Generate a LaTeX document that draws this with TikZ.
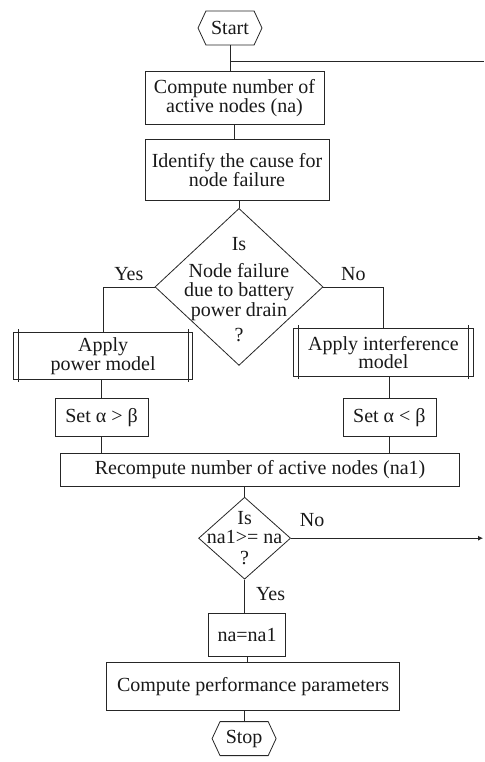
\documentclass[tikz,border=0pt]{standalone}
\usepackage{fontspec}
\setmainfont{Liberation Serif}
\usepackage{tikz}
\usetikzlibrary{positioning, arrows.meta, shapes.geometric, shapes.symbols}

\begin{document}
\begin{tikzpicture}[
    % gaya umum teks
    every node/.style={font=\fontsize{20}{18.5}\selectfont, text=black!90},
    % kotak proses
    process/.style={
        draw=black!85,
        rectangle,
        align=center,
        inner sep=2pt,
        line width=0.8pt
    },
    % terminal start/stop
    terminal/.style={
        draw=black!85,
        signal,
        signal to=east and west,
        signal pointer angle=130,
        minimum width=64pt,
        minimum height=34pt,
        inner sep=1pt,
        line width=0.8pt
    },
    % belah ketupat keputusan
    decision/.style={
        draw=black!85,
        diamond,
        inner sep=0pt,
        line width=0.8pt
    },
    % label ya/tidak
    lbl/.style={inner sep=1pt, align=center},
    % garis penghubung
    link/.style={
        draw=black!85,
        line width=0.8pt
    }
]
\useasboundingbox (0,0) rectangle (484pt,-762pt);

% =====================================================================
% NODE / BLOK
% =====================================================================
\node (start) [terminal] at (230pt,-28pt) {Start};
\node (na) [process, minimum width=179pt, minimum height=53pt, below=26pt of start, xshift=4.5pt] {Compute number of\\active nodes (na)};
\node (cause) [process, minimum width=184pt, minimum height=61pt, below=14pt of na, xshift=2.5pt] {Identify the cause for\\node failure};
\node (dec1) [decision, minimum width=168pt, minimum height=157pt, below=7pt of cause, xshift=2pt] {};
\node (dec1txt) [lbl, font=\fontsize{20}{19.5}\selectfont, yshift=-3pt] at (dec1.center) {Is\\[7pt]Node failure\\due to battery\\power drain\\[6pt]?};

\node (power) [process, minimum width=179pt, minimum height=47pt, below=45.5pt of dec1.west, xshift=-51.5pt] {Apply\\power model};
\node (interf) [process, minimum width=180pt, minimum height=48pt, below=41.5pt of dec1.east, xshift=60pt] {Apply interference\\model};
\node (seta) [process, minimum width=93pt, minimum height=38pt, below=18pt of power, xshift=-1.5pt] {Set α > β};
\node (setb) [process, minimum width=93pt, minimum height=38pt, below=21pt of interf, xshift=6pt] {Set α < β};

\node (recomp) [process, minimum width=399pt, minimum height=33pt, below=16pt of seta, xshift=158.5pt] {Recompute number of active nodes (na1)};
\node (dec2) [decision, minimum width=92pt, minimum height=82pt, below=10pt of recomp, xshift=-15.5pt] {};
\node (dec2txt) [lbl] at (dec2.center) {Is\\na1>= na\\[3pt]?};

\node (nana) [process, minimum width=77pt, minimum height=43pt, below=33pt of dec2, xshift=2.5pt] {na=na1};
\node (perf) [process, minimum width=293pt, minimum height=48pt, below=6pt of nana, xshift=6pt] {Compute performance parameters};
\node (stop) [terminal, below=10pt of perf, xshift=-9pt] {Stop};

% ujung bebas garis balik
\coordinate (loopin) at (484pt,-61.5pt);
\coordinate (loopout) at (483pt,-538pt);

% garis ganda proses terdefinisi
\foreach \n in {power, interf} {
    \draw [link] ([xshift=5pt, yshift=3pt]\n.north west) -- ([xshift=5pt, yshift=-2pt]\n.south west);
    \draw [link] ([xshift=-5pt, yshift=3pt]\n.north east) -- ([xshift=-5pt, yshift=-2pt]\n.south east);
}

% =====================================================================
% KONEKSI / ALUR
% =====================================================================
\draw [link] (start.south) -- (start.south |- na.north);
\draw [link] (start.south |- loopin) -- (loopin);
\draw [link] (na.south) -- (na.south |- cause.north);
\draw [link] (cause.south -| dec1.north) -- (dec1.north);
\draw [link] (dec1.west) -| node [lbl, pos=0.25, above=5pt] {Yes} (power.north);
\draw [link] (dec1.east) -| node [lbl, pos=0.25, above=5pt] {No} (interf.north);
\draw [link] (seta.north |- power.south) -- (seta.north);
\draw [link] (seta.south) -- (seta.south |- recomp.north);
\draw [link] (setb.north |- interf.south) -- (setb.north);
\draw [link] (setb.south) -- (setb.south |- recomp.north);
\draw [link] (recomp.south -| dec2.north) -- (dec2.north);
\draw [link, -{Latex[length=5pt, width=5pt]}] (dec2.east) -- node [lbl, pos=0.11, above=10pt] {No} (dec2.east -| loopout);
\draw [link] (dec2.south) -- node [lbl, pos=0.45, right=10pt] {Yes} (dec2.south |- nana.north);
\draw [link] (nana.south) -- (nana.south |- perf.north);
\draw [link] (perf.south -| stop.north) -- (stop.north);

\end{tikzpicture}
\end{document}
